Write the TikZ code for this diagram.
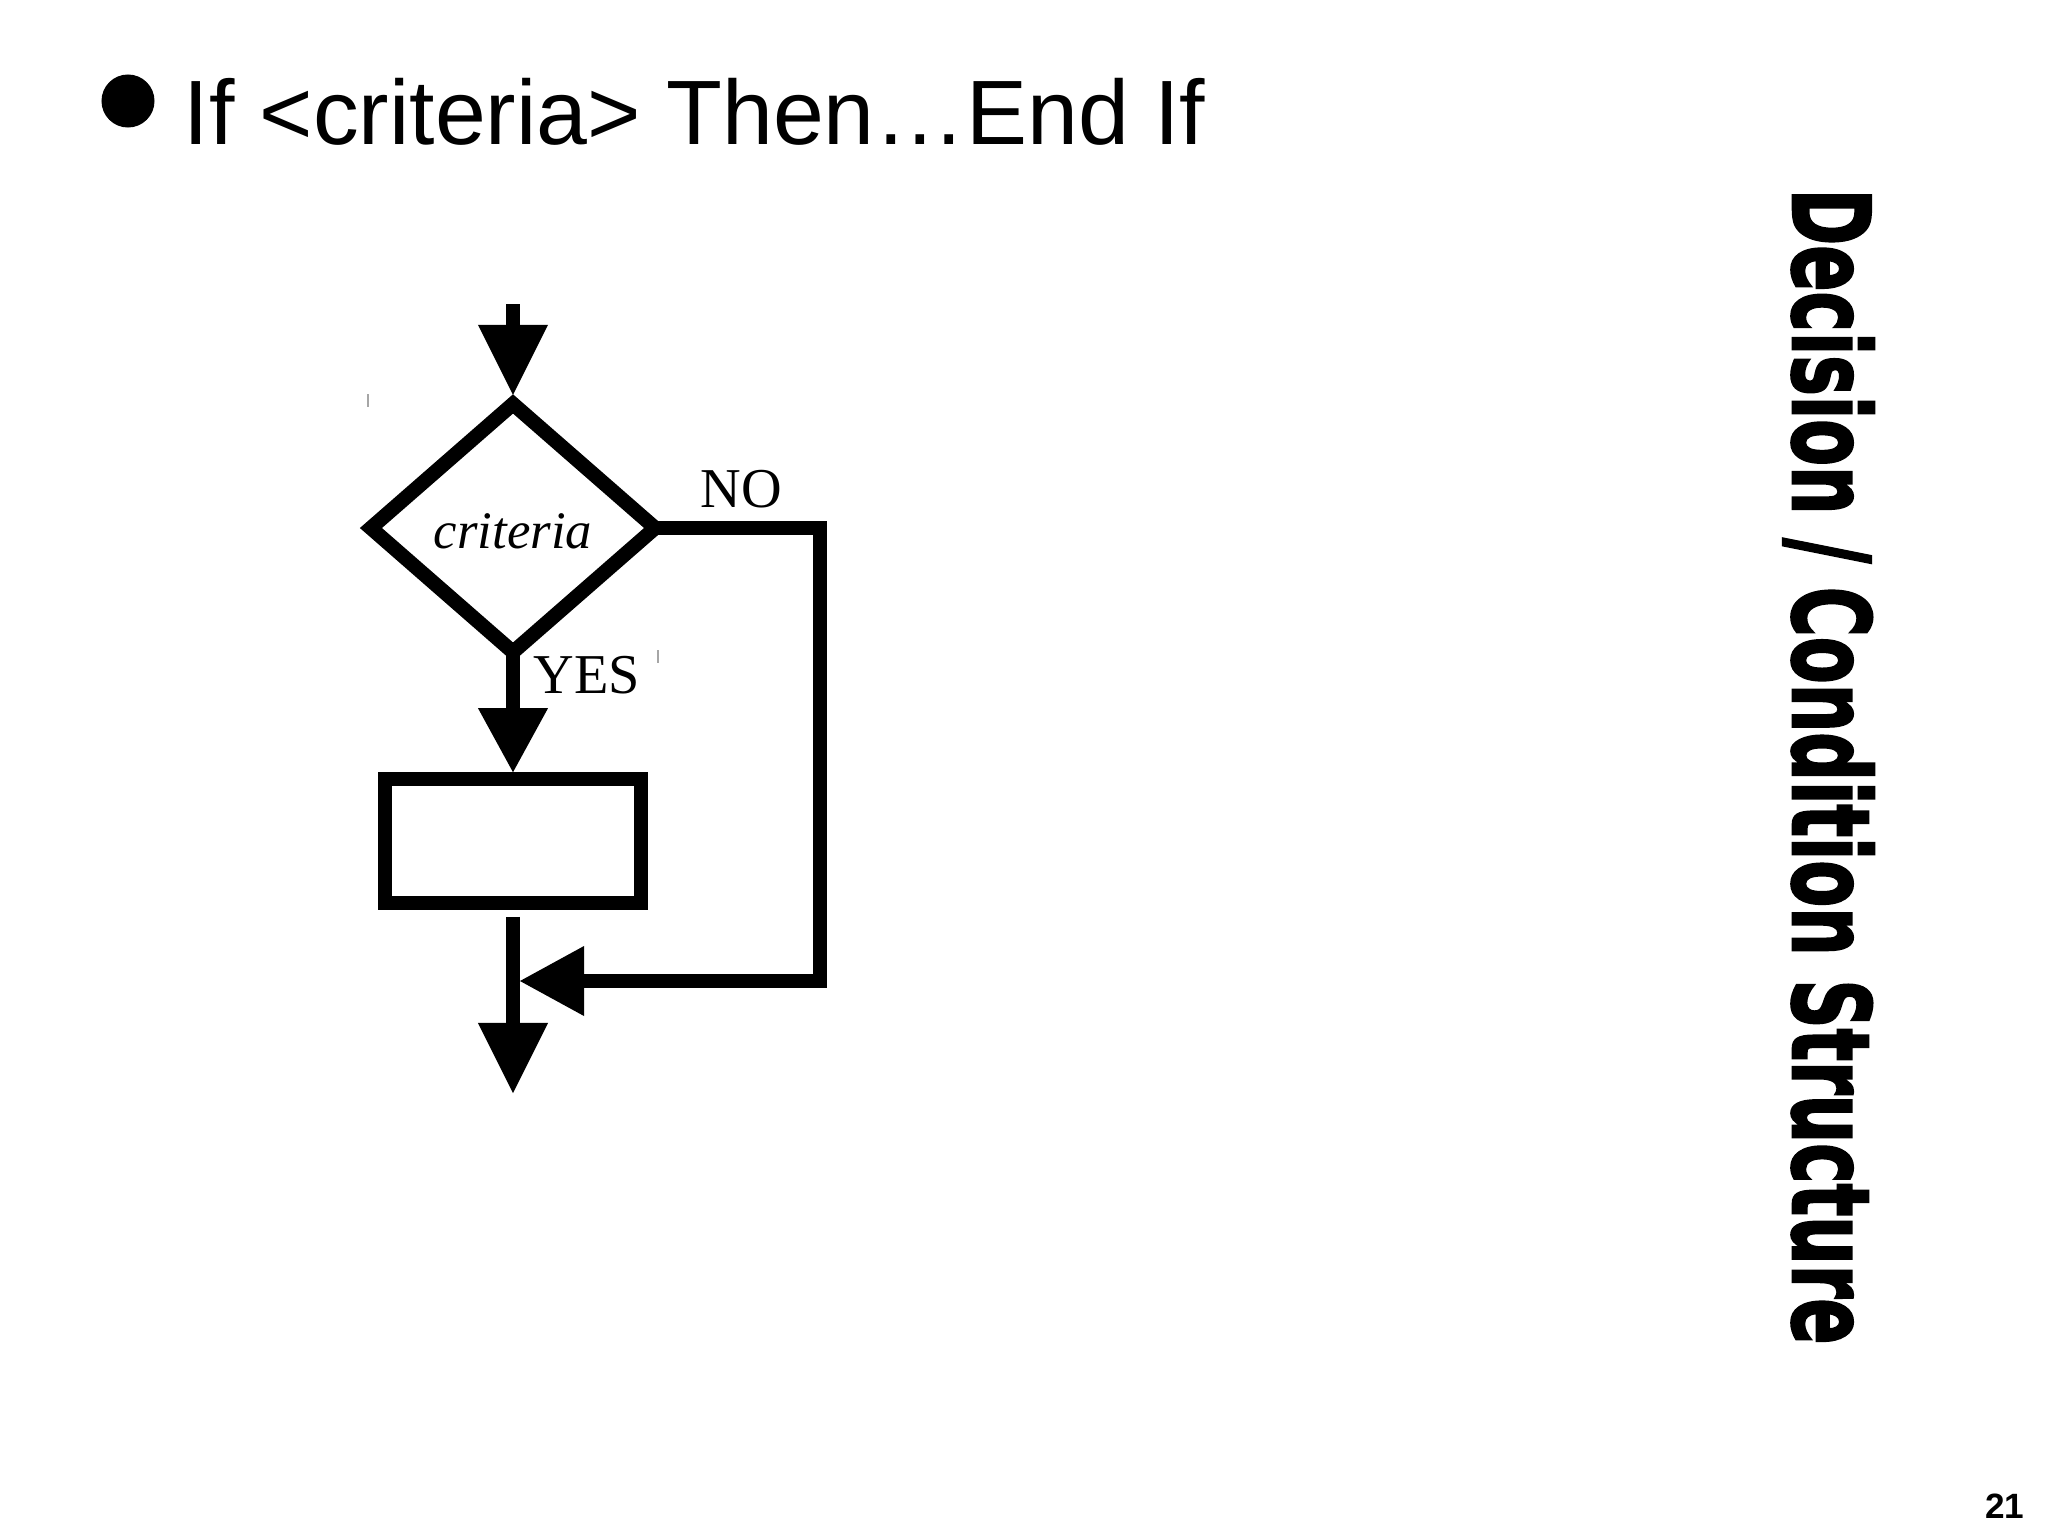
\documentclass[tikz,border=0pt]{standalone}
\usepackage{fontspec}
\setmainfont{Liberation Serif}
\newfontfamily\arialfont{Liberation Sans}
\newfontfamily\heavyfont{DejaVu Sans}[BoldFeatures={FakeBold=2.5}]
\usetikzlibrary{arrows.meta,shapes.geometric}
\begin{document}
\begin{tikzpicture}[x=0.01cm,y=-0.01cm,
  flow/.style={line width=0.14cm},
  tipL/.style={-{Triangle[width=0.7cm,length=0.7cm,line width=0pt]}},
  tipS/.style={-{Triangle[width=0.7cm,length=0.64cm,line width=0pt]}},
  lbl/.style={font=\fontsize{16pt}{19pt}\selectfont, inner sep=0pt, anchor=base west},
  tick/.style={draw=black!35, line width=0.015cm},
]
\useasboundingbox[fill=white] (0,0) rectangle (2048,1536);

% title
\node[circle, fill=black, inner sep=0pt, minimum size=0.53cm] (bullet) at (128,101) {};
\node[anchor=base west, inner sep=0pt, font=\arialfont\fontsize{26pt}{30pt}\selectfont] (title) at (183,144) {If <criteria> Then…End If};

% flowchart
\node[diamond, draw, line width=0.145cm, minimum width=2.84cm, minimum height=2.48cm, inner sep=0pt, outer sep=0pt] (d) at (513,528) {};
\node[anchor=base, inner sep=0pt, font=\itshape\fontsize{15pt}{18pt}\selectfont] (crit) at (513,548) {criteria};
\node[draw, line width=0.14cm, minimum width=2.56cm, minimum height=1.235cm, inner sep=0pt, outer sep=0pt] (box) at (513,841) {};

\coordinate (in) at (513,304);
\coordinate (out) at (513,1093);
\coordinate (nb) at (820,981);
\coordinate (m) at (520,981);

\draw[flow,tipL] (in) -- ([yshift=0.09cm]d.north);
\draw[flow,tipS] (d.south) -- ([yshift=0.07cm]box.north);
\draw[flow,tipL] ([yshift=-0.14cm]box.south) -- (out);
\draw[flow,tipS] (d.east) -| (nb) -- (m);

\node[lbl] (no) at (700,507) {NO};
\node[lbl] (yes) at (533,693) {YES};

\draw[tick] (368,394) -- (368,407);
\draw[tick] (658,650) -- (658,663);

% side title
\node[rotate=-90, anchor=base west, inner sep=0pt] (side) at (1793,188)
  {\resizebox{11.55cm}{0.81cm}{\heavyfont\bfseries Decision / Condition Structure}};

% page number
\node[anchor=base east, inner sep=0pt, font=\arialfont\bfseries\fontsize{10pt}{12pt}\selectfont] (pg) at (2025,1518) {21};
\end{tikzpicture}
\end{document}
